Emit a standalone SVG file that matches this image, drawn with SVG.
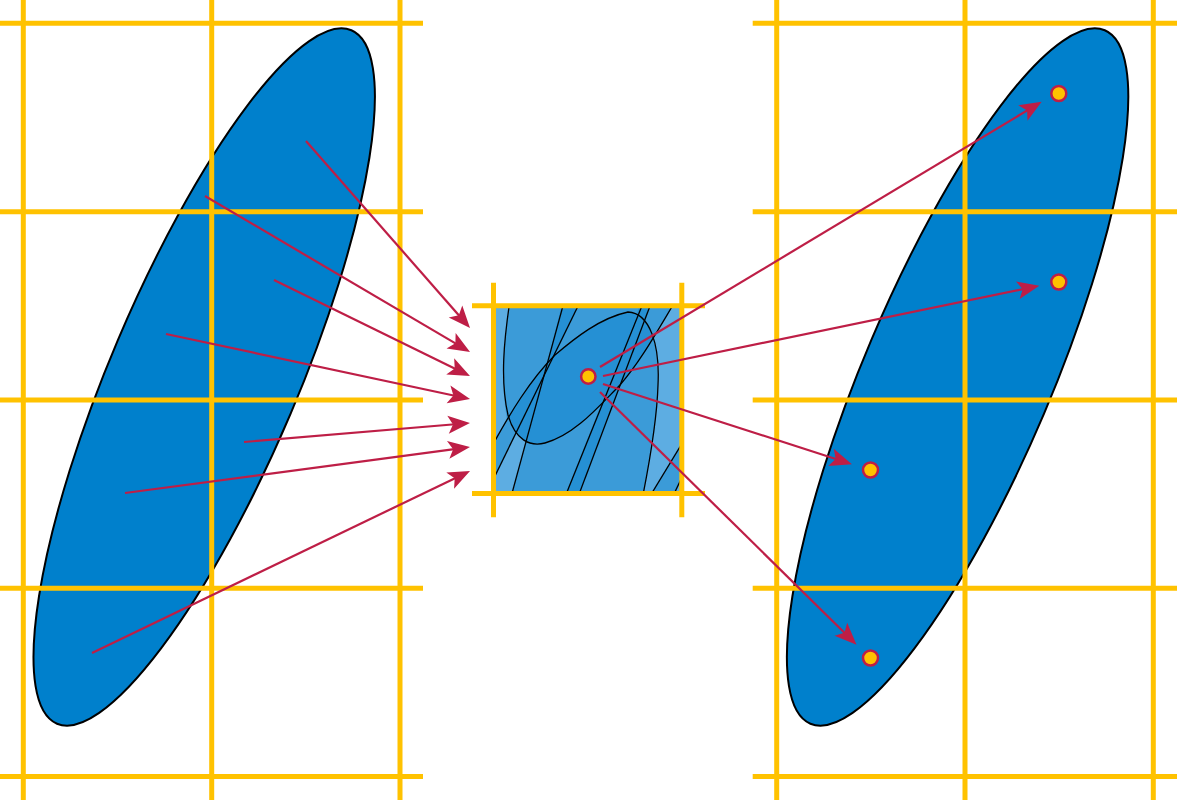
<svg xmlns="http://www.w3.org/2000/svg" width="1177" height="800" viewBox="0 0 1177 800">
  <style>
    .grid { stroke: #FFC200; stroke-width: 5; fill: none; }
    .blob { fill: #0080CC; stroke: #000; stroke-width: 2; }
    .edge { fill: none; stroke: #000; stroke-width: 1.3; }
    .conn { fill: none; stroke: #BE1E46; stroke-width: 2.2; }
    .dot { fill: #FFC200; stroke: #BE1E46; stroke-width: 2.5; }
    .light { fill: #5DADE2; }
    .medium { fill: #3B9BD8; }
    .dark { fill: #2590D4; }
  </style>
  <defs>
    <marker id="arrow" markerUnits="userSpaceOnUse" markerWidth="24" markerHeight="20" refX="10" refY="9" orient="auto" overflow="visible">
      <path d="M0,0 L22,9 L0,18 L5,9 Z" fill="#BE1E46"/>
    </marker>
    <clipPath id="sq">
      <rect x="493.5" y="305.8" width="188.3" height="187.7"/>
    </clipPath>
    <clipPath id="rreg">
      <path d="M495,438 C510,413 530,380 555,355 C575,338 600,318 628,312 C650,313 660,345 658,385 C657,420 650,460 643,495 L490,495 L490,438 Z"/>
    </clipPath>
  </defs>

  <g id="ellipse-left">
    <ellipse class="blob" cx="204.2" cy="377" rx="376.7" ry="93.9" transform="rotate(-67 204.2 377)"/>
  </g>
  <g id="ellipse-right">
    <ellipse class="blob" cx="957.6" cy="377" rx="376.7" ry="93.9" transform="rotate(-67 957.6 377)"/>
  </g>

  <g id="grid-left" class="grid">
    <line x1="23.3" y1="0" x2="23.3" y2="800"/>
    <line x1="211.7" y1="0" x2="211.7" y2="800"/>
    <line x1="400" y1="0" x2="400" y2="800"/>
    <line x1="0" y1="23.3" x2="423" y2="23.3"/>
    <line x1="0" y1="211.7" x2="423" y2="211.7"/>
    <line x1="0" y1="400" x2="423" y2="400"/>
    <line x1="0" y1="588.3" x2="423" y2="588.3"/>
    <line x1="0" y1="776.5" x2="423" y2="776.5"/>
  </g>
  <g id="grid-right" class="grid">
    <line x1="776.7" y1="0" x2="776.7" y2="800"/>
    <line x1="965" y1="0" x2="965" y2="800"/>
    <line x1="1153.3" y1="0" x2="1153.3" y2="800"/>
    <line x1="752.7" y1="23.3" x2="1177" y2="23.3"/>
    <line x1="752.7" y1="211.7" x2="1177" y2="211.7"/>
    <line x1="752.7" y1="400" x2="1177" y2="400"/>
    <line x1="752.7" y1="588.3" x2="1177" y2="588.3"/>
    <line x1="752.7" y1="776.5" x2="1177" y2="776.5"/>
  </g>

  <g id="center-square">
    <g clip-path="url(#sq)">
      <rect class="medium" x="493.5" y="305.8" width="188.3" height="187.7"/>
      <path class="light" d="M490,300 L509.5,300 L509.5,305.8 C504,340 500,380 507,420 L495,438 L490,442 Z"/>
      <path class="light" d="M673,305.8 L690,300 L690,500 L643,500 L643,493.5 C650,460 657,420 658,385 C658,365 656,348 653,336 C660,325 667,315 673,305.8 Z"/>
      <path class="light" d="M490,487 L516,433 Q521,438 526,441.5 L510,500 L490,500 Z"/>
      <path class="medium" d="M690,428 L650,497 L673,497 L690,465 Z"/>
      <g clip-path="url(#rreg)">
        <path class="dark" d="M509.5,305.8 C504,340 500,380 508,415 C515,440 530,447 545,443 C575,435 600,405 620,385 C640,362 655,335 673,305.8 Z"/>
      </g>
      <path class="dark" d="M563,300 L578,300 L578,305.8 L543.3,378.7 Z"/>
      <path class="dark" d="M642,300 L650,300 L650,305.8 L578.5,495 L565.5,495 Z"/>
      <path class="edge" d="M510,300 C504,340 500,380 508,415 C515,440 530,447 545,443 C575,435 600,405 620,385 C640,362 655,335 676,300"/>
      <path class="edge" d="M490,450 C510,413 530,380 555,355 C575,338 600,318 628,312 C650,313 660,345 658,385 C657,420 650,460 642,500"/>
      <line class="edge" x1="564" y1="302" x2="511" y2="497"/>
      <line class="edge" x1="580" y1="302" x2="491" y2="484"/>
      <line class="edge" x1="643.5" y1="302" x2="565" y2="497"/>
      <line class="edge" x1="651.5" y1="302" x2="578" y2="497"/>
      <line class="edge" x1="686" y1="437" x2="649.5" y2="497"/>
      <line class="edge" x1="686" y1="469" x2="672.5" y2="497"/>
    </g>
    <g class="grid">
      <line x1="472" y1="305.8" x2="705" y2="305.8"/>
      <line x1="472" y1="493.5" x2="705" y2="493.5"/>
      <line x1="493.5" y1="282.7" x2="493.5" y2="517.3"/>
      <line x1="681.8" y1="282.7" x2="681.8" y2="517.3"/>
    </g>
  </g>

  <g id="connectors">
    <line class="conn" x1="306" y1="141" x2="462.1" y2="319.0" marker-end="url(#arrow)"/>
    <line class="conn" x1="205" y1="196" x2="459.7" y2="345.9" marker-end="url(#arrow)"/>
    <line class="conn" x1="274" y1="280" x2="459.2" y2="370.7" marker-end="url(#arrow)"/>
    <line class="conn" x1="166" y1="334" x2="458.3" y2="396.5" marker-end="url(#arrow)"/>
    <line class="conn" x1="244" y1="442" x2="458.0" y2="424.0" marker-end="url(#arrow)"/>
    <line class="conn" x1="125" y1="493" x2="458.1" y2="448.6" marker-end="url(#arrow)"/>
    <line class="conn" x1="92" y1="653" x2="459.2" y2="476.2" marker-end="url(#arrow)"/>
    <line class="conn" x1="600" y1="367" x2="1031.4" y2="107.9" marker-end="url(#arrow)"/>
    <line class="conn" x1="603" y1="376" x2="1027.6" y2="288.2" marker-end="url(#arrow)"/>
    <line class="conn" x1="603" y1="384" x2="840.5" y2="460.5" marker-end="url(#arrow)"/>
    <line class="conn" x1="600" y1="392" x2="848.0" y2="636.3" marker-end="url(#arrow)"/>
  </g>

  <g id="dots">
    <circle id="dot-center" class="dot" cx="588.3" cy="376.5" r="7.2"/>
    <circle id="dot-1" class="dot" cx="1058.8" cy="93.5" r="7.5"/>
    <circle id="dot-2" class="dot" cx="1058.8" cy="282" r="7.5"/>
    <circle id="dot-3" class="dot" cx="870.5" cy="470" r="7.5"/>
    <circle id="dot-4" class="dot" cx="870.5" cy="658" r="7.5"/>
  </g>
</svg>
